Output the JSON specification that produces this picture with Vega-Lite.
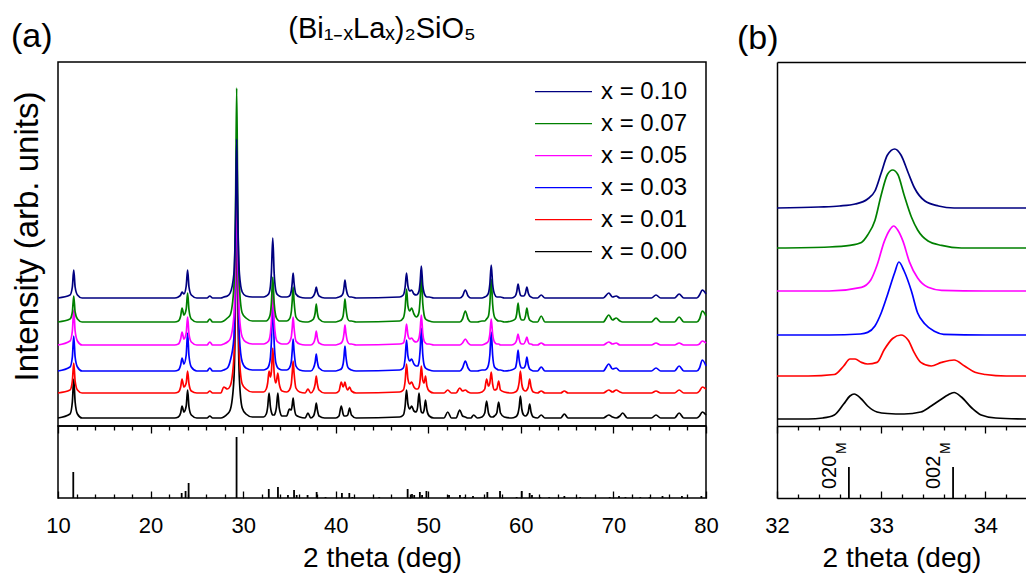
{
  "$schema": "https://vega.github.io/schema/vega-lite/v6.json",
  "background": "white",
  "padding": {"left": 10, "top": 14, "right": 0, "bottom": 0},
  "autosize": {"type": "pad"},
  "bounds": "flush",
  "columns": 2,
  "spacing": {"row": 0, "column": 71},
  "resolve": {"scale": {"color": "independent"}},
  "title": {"text": "(a)", "anchor": "start", "frame": "group", "dx": -47, "offset": -40, "fontSize": 34, "font": "Liberation Sans", "fontWeight": "normal", "color": "black"},
  "datasets": {
    "xrd": [
      {"t":10,"k0":8,"k1":33,"k3":55,"k5":81,"k7":104,"k10":128},
      {"t":11.3,"k0":12,"k1":36,"k3":59,"k5":85,"k7":107,"k10":131},
      {"t":11.55,"k0":24,"k1":45,"k3":69,"k5":95,"k7":114,"k10":139},
      {"t":11.7,"k0":47,"k1":63,"k3":90,"k5":116,"k7":130,"k10":156},
      {"t":11.85,"k0":24,"k1":45,"k3":69,"k5":95,"k7":114,"k10":139},
      {"t":12.1,"k0":12,"k1":36,"k3":59,"k5":85,"k7":107,"k10":131},
      {"t":12.6,"k0":8,"k1":33,"k3":55,"k5":81,"k7":104,"k10":128},
      {"t":22.6,"k0":8,"k1":33,"k3":55,"k5":81,"k7":104,"k10":128},
      {"t":23.0,"k0":9,"k1":34,"k3":56,"k5":82,"k7":105,"k10":129},
      {"t":23.25,"k0":13,"k1":39,"k3":61,"k5":87,"k7":110,"k10":131},
      {"t":23.4,"k0":20,"k1":47,"k3":68,"k5":94,"k7":118,"k10":134},
      {"t":23.6,"k0":14,"k1":39,"k3":62,"k5":87,"k7":111,"k10":132},
      {"t":23.85,"k0":20,"k1":43,"k3":71,"k5":93,"k7":117,"k10":140},
      {"t":24.0,"k0":36,"k1":55,"k3":93,"k5":109,"k7":133,"k10":156},
      {"t":24.15,"k0":19,"k1":42,"k3":70,"k5":92,"k7":116,"k10":139},
      {"t":24.4,"k0":11,"k1":35,"k3":59,"k5":84,"k7":107,"k10":131},
      {"t":25.0,"k0":8,"k1":33,"k3":55,"k5":81,"k7":104,"k10":128},
      {"t":26.1,"k0":8,"k1":33,"k3":55,"k5":81,"k7":104,"k10":128},
      {"t":26.4,"k0":10,"k1":35,"k3":58,"k5":84,"k7":107,"k10":130},
      {"t":26.7,"k0":8,"k1":33,"k3":55,"k5":81,"k7":104,"k10":128},
      {"t":27.6,"k0":8,"k1":33,"k3":55,"k5":81,"k7":104,"k10":128},
      {"t":27.9,"k0":9,"k1":39,"k3":56,"k5":82,"k7":105,"k10":129},
      {"t":28.3,"k0":12,"k1":37,"k3":58,"k5":84,"k7":108,"k10":130},
      {"t":28.6,"k0":16,"k1":40,"k3":65,"k5":87,"k7":111,"k10":133},
      {"t":29.0,"k0":46,"k1":68,"k3":88,"k5":110,"k7":139,"k10":152},
      {"t":29.18,"k0":133,"k1":150,"k3":165,"k5":178,"k7":221,"k10":208},
      {"t":29.3,"k0":258,"k1":268,"k3":275,"k5":276,"k7":338,"k10":287},
      {"t":29.42,"k0":133,"k1":150,"k3":165,"k5":178,"k7":221,"k10":208},
      {"t":29.6,"k0":46,"k1":68,"k3":88,"k5":110,"k7":139,"k10":152},
      {"t":29.9,"k0":18,"k1":42,"k3":64,"k5":89,"k7":113,"k10":134},
      {"t":30.3,"k0":12,"k1":37,"k3":58,"k5":84,"k7":108,"k10":130},
      {"t":31.0,"k0":9,"k1":34,"k3":56,"k5":82,"k7":105,"k10":129},
      {"t":32.2,"k0":9,"k1":34,"k3":56,"k5":82,"k7":105,"k10":129},
      {"t":32.5,"k0":12,"k1":37,"k3":57,"k5":83,"k7":105,"k10":130},
      {"t":32.65,"k0":19,"k1":43,"k3":58,"k5":84,"k7":106,"k10":131},
      {"t":32.8,"k0":33,"k1":55,"k3":61,"k5":86,"k7":108,"k10":133},
      {"t":32.95,"k0":19,"k1":49,"k3":69,"k5":93,"k7":113,"k10":140},
      {"t":33.05,"k0":14,"k1":54,"k3":84,"k5":105,"k7":123,"k10":153},
      {"t":33.2,"k0":11,"k1":78,"k3":125,"k5":139,"k7":149,"k10":188},
      {"t":33.35,"k0":11,"k1":53,"k3":84,"k5":105,"k7":123,"k10":153},
      {"t":33.5,"k0":14,"k1":43,"k3":65,"k5":90,"k7":111,"k10":137},
      {"t":33.6,"k0":19,"k1":45,"k3":61,"k5":86,"k7":108,"k10":133},
      {"t":33.75,"k0":33,"k1":53,"k3":58,"k5":84,"k7":106,"k10":131},
      {"t":33.9,"k0":18,"k1":42,"k3":57,"k5":83,"k7":105,"k10":130},
      {"t":34.2,"k0":10,"k1":35,"k3":56,"k5":82,"k7":105,"k10":129},
      {"t":34.7,"k0":10,"k1":34,"k3":56,"k5":82,"k7":105,"k10":129},
      {"t":35.0,"k0":17,"k1":36,"k3":58,"k5":84,"k7":107,"k10":130},
      {"t":35.2,"k0":16,"k1":42,"k3":64,"k5":89,"k7":114,"k10":135},
      {"t":35.3,"k0":21,"k1":53,"k3":75,"k5":98,"k7":125,"k10":143},
      {"t":35.4,"k0":28,"k1":65,"k3":87,"k5":109,"k7":139,"k10":153},
      {"t":35.5,"k0":20,"k1":53,"k3":75,"k5":98,"k7":125,"k10":143},
      {"t":35.7,"k0":11,"k1":38,"k3":60,"k5":85,"k7":109,"k10":132},
      {"t":36.1,"k0":9,"k1":34,"k3":56,"k5":82,"k7":105,"k10":129},
      {"t":36.7,"k0":8,"k1":33,"k3":55,"k5":81,"k7":104,"k10":128},
      {"t":37.0,"k0":13,"k1":37,"k3":55,"k5":81,"k7":104,"k10":128},
      {"t":37.3,"k0":8,"k1":33,"k3":55,"k5":81,"k7":105,"k10":128},
      {"t":37.6,"k0":10,"k1":36,"k3":58,"k5":83,"k7":107,"k10":130},
      {"t":37.78,"k0":16,"k1":42,"k3":64,"k5":88,"k7":113,"k10":134},
      {"t":37.9,"k0":23,"k1":50,"k3":72,"k5":95,"k7":122,"k10":139},
      {"t":38.02,"k0":16,"k1":42,"k3":64,"k5":88,"k7":113,"k10":134},
      {"t":38.2,"k0":10,"k1":36,"k3":58,"k5":83,"k7":107,"k10":130},
      {"t":38.8,"k0":8,"k1":33,"k3":55,"k5":81,"k7":104,"k10":128},
      {"t":40.0,"k0":8,"k1":33,"k3":55,"k5":81,"k7":104,"k10":128},
      {"t":40.35,"k0":10,"k1":35,"k3":56,"k5":82,"k7":105,"k10":129},
      {"t":40.6,"k0":20,"k1":44,"k3":57,"k5":83,"k7":106,"k10":130},
      {"t":40.8,"k0":12,"k1":39,"k3":62,"k5":87,"k7":110,"k10":133},
      {"t":40.9,"k0":10,"k1":41,"k3":70,"k5":93,"k7":118,"k10":139},
      {"t":41.0,"k0":10,"k1":44,"k3":80,"k5":101,"k7":127,"k10":146},
      {"t":41.1,"k0":10,"k1":40,"k3":70,"k5":93,"k7":118,"k10":139},
      {"t":41.3,"k0":11,"k1":36,"k3":59,"k5":84,"k7":107,"k10":131},
      {"t":41.5,"k0":18,"k1":39,"k3":57,"k5":82,"k7":105,"k10":129},
      {"t":41.7,"k0":11,"k1":35,"k3":56,"k5":82,"k7":105,"k10":129},
      {"t":42.2,"k0":8,"k1":33,"k3":55,"k5":81,"k7":104,"k10":128},
      {"t":46.9,"k0":9,"k1":34,"k3":56,"k5":82,"k7":105,"k10":129},
      {"t":47.3,"k0":11,"k1":36,"k3":58,"k5":83,"k7":108,"k10":131},
      {"t":47.5,"k0":20,"k1":45,"k3":68,"k5":90,"k7":118,"k10":139},
      {"t":47.65,"k0":36,"k1":62,"k3":86,"k5":102,"k7":137,"k10":153},
      {"t":47.8,"k0":22,"k1":47,"k3":70,"k5":91,"k7":120,"k10":140},
      {"t":48.0,"k0":17,"k1":42,"k3":65,"k5":87,"k7":115,"k10":135},
      {"t":48.2,"k0":20,"k1":44,"k3":67,"k5":88,"k7":118,"k10":136},
      {"t":48.45,"k0":15,"k1":39,"k3":62,"k5":85,"k7":112,"k10":132},
      {"t":48.7,"k0":14,"k1":37,"k3":60,"k5":84,"k7":109,"k10":131},
      {"t":48.85,"k0":19,"k1":37,"k3":60,"k5":85,"k7":110,"k10":132},
      {"t":49.0,"k0":33,"k1":39,"k3":64,"k5":88,"k7":114,"k10":135},
      {"t":49.12,"k0":22,"k1":46,"k3":76,"k5":96,"k7":127,"k10":144},
      {"t":49.25,"k0":14,"k1":60,"k3":98,"k5":111,"k7":150,"k10":160},
      {"t":49.4,"k0":13,"k1":46,"k3":72,"k5":93,"k7":123,"k10":141},
      {"t":49.55,"k0":16,"k1":43,"k3":61,"k5":85,"k7":111,"k10":133},
      {"t":49.7,"k0":26,"k1":50,"k3":58,"k5":83,"k7":107,"k10":130},
      {"t":49.85,"k0":16,"k1":40,"k3":57,"k5":82,"k7":106,"k10":129},
      {"t":50.1,"k0":10,"k1":35,"k3":56,"k5":82,"k7":105,"k10":129},
      {"t":50.6,"k0":8,"k1":33,"k3":55,"k5":81,"k7":104,"k10":128},
      {"t":51.7,"k0":8,"k1":33,"k3":55,"k5":81,"k7":104,"k10":128},
      {"t":52.1,"k0":14,"k1":36,"k3":55,"k5":81,"k7":104,"k10":128},
      {"t":52.5,"k0":8,"k1":33,"k3":55,"k5":81,"k7":104,"k10":128},
      {"t":53.0,"k0":8,"k1":33,"k3":55,"k5":81,"k7":104,"k10":128},
      {"t":53.4,"k0":16,"k1":38,"k3":55,"k5":81,"k7":104,"k10":128},
      {"t":53.7,"k0":10,"k1":35,"k3":58,"k5":83,"k7":107,"k10":130},
      {"t":54.0,"k0":9,"k1":36,"k3":65,"k5":87,"k7":115,"k10":136},
      {"t":54.3,"k0":8,"k1":34,"k3":58,"k5":83,"k7":107,"k10":130},
      {"t":54.6,"k0":8,"k1":33,"k3":55,"k5":81,"k7":104,"k10":128},
      {"t":54.9,"k0":11,"k1":33,"k3":55,"k5":81,"k7":104,"k10":128},
      {"t":55.3,"k0":8,"k1":33,"k3":55,"k5":81,"k7":104,"k10":128},
      {"t":55.8,"k0":9,"k1":34,"k3":56,"k5":81,"k7":105,"k10":128},
      {"t":56.1,"k0":13,"k1":37,"k3":56,"k5":82,"k7":105,"k10":129},
      {"t":56.3,"k0":25,"k1":47,"k3":57,"k5":83,"k7":107,"k10":130},
      {"t":56.5,"k0":13,"k1":40,"k3":61,"k5":85,"k7":110,"k10":133},
      {"t":56.65,"k0":10,"k1":43,"k3":71,"k5":92,"k7":122,"k10":142},
      {"t":56.8,"k0":9,"k1":54,"k3":94,"k5":107,"k7":147,"k10":161},
      {"t":56.95,"k0":9,"k1":42,"k3":71,"k5":92,"k7":122,"k10":142},
      {"t":57.15,"k0":10,"k1":36,"k3":59,"k5":84,"k7":109,"k10":132},
      {"t":57.4,"k0":13,"k1":37,"k3":57,"k5":82,"k7":106,"k10":129},
      {"t":57.6,"k0":24,"k1":45,"k3":56,"k5":82,"k7":105,"k10":129},
      {"t":57.8,"k0":13,"k1":36,"k3":56,"k5":81,"k7":105,"k10":129},
      {"t":58.2,"k0":9,"k1":34,"k3":55,"k5":81,"k7":104,"k10":128},
      {"t":59.0,"k0":8,"k1":33,"k3":56,"k5":81,"k7":105,"k10":128},
      {"t":59.4,"k0":9,"k1":34,"k3":58,"k5":83,"k7":107,"k10":130},
      {"t":59.55,"k0":10,"k1":35,"k3":64,"k5":86,"k7":112,"k10":134},
      {"t":59.7,"k0":13,"k1":38,"k3":76,"k5":92,"k7":123,"k10":142},
      {"t":59.82,"k0":19,"k1":44,"k3":66,"k5":87,"k7":114,"k10":136},
      {"t":59.95,"k0":30,"k1":55,"k3":60,"k5":83,"k7":108,"k10":131},
      {"t":60.1,"k0":17,"k1":42,"k3":58,"k5":82,"k7":106,"k10":130},
      {"t":60.3,"k0":11,"k1":36,"k3":58,"k5":82,"k7":106,"k10":130},
      {"t":60.5,"k0":10,"k1":35,"k3":61,"k5":85,"k7":110,"k10":133},
      {"t":60.65,"k0":11,"k1":36,"k3":69,"k5":89,"k7":118,"k10":139},
      {"t":60.8,"k0":14,"k1":39,"k3":61,"k5":84,"k7":110,"k10":133},
      {"t":60.95,"k0":22,"k1":47,"k3":57,"k5":82,"k7":106,"k10":130},
      {"t":61.1,"k0":14,"k1":39,"k3":56,"k5":82,"k7":105,"k10":129},
      {"t":61.35,"k0":9,"k1":34,"k3":55,"k5":81,"k7":104,"k10":128},
      {"t":61.8,"k0":8,"k1":33,"k3":55,"k5":81,"k7":104,"k10":128},
      {"t":62.2,"k0":11,"k1":35,"k3":59,"k5":83,"k7":110,"k10":131},
      {"t":62.6,"k0":8,"k1":33,"k3":55,"k5":81,"k7":104,"k10":128},
      {"t":64.3,"k0":8,"k1":33,"k3":55,"k5":81,"k7":104,"k10":128},
      {"t":64.7,"k0":12,"k1":35,"k3":55,"k5":81,"k7":104,"k10":128},
      {"t":65.1,"k0":8,"k1":33,"k3":55,"k5":81,"k7":104,"k10":128},
      {"t":68.9,"k0":8,"k1":33,"k3":55,"k5":81,"k7":104,"k10":128},
      {"t":69.5,"k0":11,"k1":36,"k3":62,"k5":84,"k7":111,"k10":133},
      {"t":69.9,"k0":9,"k1":34,"k3":57,"k5":82,"k7":106,"k10":129},
      {"t":70.3,"k0":8,"k1":36,"k3":58,"k5":83,"k7":108,"k10":130},
      {"t":70.7,"k0":10,"k1":34,"k3":55,"k5":81,"k7":105,"k10":128},
      {"t":71.0,"k0":13,"k1":33,"k3":55,"k5":81,"k7":104,"k10":128},
      {"t":71.5,"k0":8,"k1":33,"k3":55,"k5":81,"k7":104,"k10":128},
      {"t":74.1,"k0":8,"k1":33,"k3":55,"k5":81,"k7":104,"k10":128},
      {"t":74.6,"k0":11,"k1":35,"k3":58,"k5":83,"k7":108,"k10":131},
      {"t":75.1,"k0":8,"k1":33,"k3":55,"k5":81,"k7":104,"k10":128},
      {"t":76.6,"k0":8,"k1":33,"k3":55,"k5":81,"k7":104,"k10":128},
      {"t":77.1,"k0":13,"k1":36,"k3":60,"k5":83,"k7":109,"k10":132},
      {"t":77.6,"k0":8,"k1":33,"k3":55,"k5":81,"k7":104,"k10":128},
      {"t":79.0,"k0":8,"k1":33,"k3":55,"k5":81,"k7":104,"k10":128},
      {"t":79.3,"k0":10,"k1":35,"k3":58,"k5":82,"k7":107,"k10":131},
      {"t":79.6,"k0":14,"k1":39,"k3":66,"k5":85,"k7":115,"k10":136},
      {"t":80.0,"k0":11,"k1":37,"k3":60,"k5":83,"k7":110,"k10":132}
    ],
    "ref": [
      {"t":11.65,"h":26},{"t":23.36,"h":5},{"t":23.78,"h":7},{"t":24.11,"h":15},{"t":29.29,"h":61},
      {"t":32.77,"h":9},{"t":33.76,"h":11},{"t":34.84,"h":3},{"t":35.5,"h":8},{"t":35.78,"h":3},
      {"t":36.96,"h":3},{"t":37.94,"h":6},{"t":38.9,"h":1},{"t":40.67,"h":5},{"t":41.47,"h":5},
      {"t":41.8,"h":1},{"t":44.7,"h":1},{"t":47.77,"h":9},{"t":48.24,"h":4},{"t":48.48,"h":3},
      {"t":49.09,"h":6},{"t":49.33,"h":3},{"t":49.8,"h":7},{"t":52.24,"h":3},{"t":53.42,"h":3},
      {"t":53.9,"h":1},{"t":54.83,"h":2},{"t":56.38,"h":6},{"t":57.75,"h":7},{"t":59.54,"h":1},
      {"t":60.1,"h":7},{"t":60.95,"h":5},{"t":61.2,"h":3},{"t":62.1,"h":1},{"t":63.06,"h":1},
      {"t":64.7,"h":2},{"t":66.4,"h":1},{"t":69.6,"h":1},{"t":70.6,"h":2},{"t":71.3,"h":1},
      {"t":72.9,"h":1},{"t":73.9,"h":1},{"t":75.3,"h":2},{"t":77.4,"h":2},{"t":79.5,"h":2}
    ],
    "zoom": [
      {"t":32.0,"key":"k0","v":7},{"t":32.3,"key":"k0","v":7},{"t":32.44,"key":"k0","v":8},{"t":32.55,"key":"k0","v":11},
      {"t":32.64,"key":"k0","v":22},{"t":32.7,"key":"k0","v":30},{"t":32.74,"key":"k0","v":32},{"t":32.81,"key":"k0","v":27},
      {"t":32.87,"key":"k0","v":20},{"t":32.96,"key":"k0","v":14},{"t":33.06,"key":"k0","v":12.5},{"t":33.22,"key":"k0","v":12},
      {"t":33.38,"key":"k0","v":14},{"t":33.48,"key":"k0","v":20},{"t":33.58,"key":"k0","v":27},{"t":33.64,"key":"k0","v":31},
      {"t":33.7,"key":"k0","v":33.5},{"t":33.77,"key":"k0","v":29},{"t":33.87,"key":"k0","v":18},{"t":33.96,"key":"k0","v":11},
      {"t":34.1,"key":"k0","v":8},{"t":34.4,"key":"k0","v":7},
      {"t":32.0,"key":"k1","v":50},{"t":32.3,"key":"k1","v":50},{"t":32.55,"key":"k1","v":51.5},{"t":32.64,"key":"k1","v":60},
      {"t":32.7,"key":"k1","v":67},{"t":32.75,"key":"k1","v":67},{"t":32.81,"key":"k1","v":63.6},{"t":32.87,"key":"k1","v":62},
      {"t":32.96,"key":"k1","v":63.6},{"t":33.03,"key":"k1","v":76.5},{"t":33.11,"key":"k1","v":87.5},{"t":33.19,"key":"k1","v":91},
      {"t":33.26,"key":"k1","v":85.7},{"t":33.32,"key":"k1","v":72.8},{"t":33.38,"key":"k1","v":63.6},{"t":33.48,"key":"k1","v":60},
      {"t":33.58,"key":"k1","v":63.6},{"t":33.7,"key":"k1","v":66},{"t":33.8,"key":"k1","v":60},{"t":33.9,"key":"k1","v":53.7},
      {"t":34.0,"key":"k1","v":51.5},{"t":34.2,"key":"k1","v":50},{"t":34.4,"key":"k1","v":50},
      {"t":32.0,"key":"k3","v":91},{"t":32.5,"key":"k3","v":91},{"t":32.8,"key":"k3","v":92},{"t":32.87,"key":"k3","v":93.6},
      {"t":32.94,"key":"k3","v":100},{"t":33.0,"key":"k3","v":113},{"t":33.06,"key":"k3","v":131},{"t":33.13,"key":"k3","v":153.5},
      {"t":33.17,"key":"k3","v":164},{"t":33.22,"key":"k3","v":155},{"t":33.29,"key":"k3","v":135},{"t":33.35,"key":"k3","v":113},
      {"t":33.42,"key":"k3","v":102},{"t":33.51,"key":"k3","v":94.7},{"t":33.6,"key":"k3","v":91.7},{"t":34.0,"key":"k3","v":91},
      {"t":34.4,"key":"k3","v":91},
      {"t":32.0,"key":"k5","v":135},{"t":32.5,"key":"k5","v":135},{"t":32.81,"key":"k5","v":138.7},{"t":32.9,"key":"k5","v":146},
      {"t":32.96,"key":"k5","v":160.7},{"t":33.03,"key":"k5","v":184.6},{"t":33.08,"key":"k5","v":195.7},{"t":33.12,"key":"k5","v":200},
      {"t":33.16,"key":"k5","v":195.7},{"t":33.21,"key":"k5","v":184.6},{"t":33.27,"key":"k5","v":164.4},{"t":33.35,"key":"k5","v":148},
      {"t":33.45,"key":"k5","v":138.7},{"t":33.58,"key":"k5","v":135.7},{"t":34.0,"key":"k5","v":135},{"t":34.4,"key":"k5","v":135},
      {"t":32.0,"key":"k7","v":178},{"t":32.5,"key":"k7","v":179},{"t":32.7,"key":"k7","v":180.6},{"t":32.81,"key":"k7","v":183.5},
      {"t":32.87,"key":"k7","v":191},{"t":32.94,"key":"k7","v":205.6},{"t":33.0,"key":"k7","v":231},{"t":33.06,"key":"k7","v":251.5},
      {"t":33.11,"key":"k7","v":256},{"t":33.16,"key":"k7","v":251.5},{"t":33.22,"key":"k7","v":231},{"t":33.29,"key":"k7","v":209},
      {"t":33.35,"key":"k7","v":196},{"t":33.45,"key":"k7","v":185},{"t":33.58,"key":"k7","v":180.6},{"t":33.77,"key":"k7","v":178},
      {"t":34.4,"key":"k7","v":178},
      {"t":32.0,"key":"k10","v":218},{"t":32.4,"key":"k10","v":219},{"t":32.6,"key":"k10","v":220},{"t":32.75,"key":"k10","v":222},
      {"t":32.87,"key":"k10","v":227},{"t":32.94,"key":"k10","v":235},{"t":33.0,"key":"k10","v":253},{"t":33.06,"key":"k10","v":271},
      {"t":33.13,"key":"k10","v":277},{"t":33.19,"key":"k10","v":271},{"t":33.26,"key":"k10","v":253},{"t":33.32,"key":"k10","v":238},
      {"t":33.42,"key":"k10","v":225},{"t":33.55,"key":"k10","v":220},{"t":33.7,"key":"k10","v":218},{"t":34.4,"key":"k10","v":218}
    ],
    "refb": [
      {"t":32.69,"h":31,"lab":"020","sub":"M"},
      {"t":33.69,"h":31,"lab":"002","sub":"M"}
    ]
  },
  "concat": [
    {
      "width": 648, "height": 364,
      "data": {"name": "xrd"},
      "transform": [{"fold": ["k0","k1","k3","k5","k7","k10"], "as": ["key","v"]}],
      "title": {"text": "(Bi₁₋ₓLaₓ)₂SiO₅", "frame": "group", "anchor": "middle", "fontSize": 29, "offset": 18},
      "mark": {"type": "line", "strokeWidth": 1.7, "interpolate": "monotone"},
      "encoding": {
        "x": {"field": "t", "type": "quantitative", "scale": {"domain": [10, 80], "nice": false, "zero": false},
          "axis": {"values": [10,12,14,16,18,20,22,24,26,28,30,32,34,36,38,40,42,44,46,48,50,52,54,56,58,60,62,64,66,68,70,72,74,76,78,80],
            "labels": false, "domain": false, "title": null,
            "tickSize": {"condition": {"test": "datum.value % 10 === 0", "value": 7}, "value": 4}}},
        "y": {"field": "v", "type": "quantitative", "scale": {"domain": [0, 364], "nice": false, "zero": false},
          "axis": {"title": "Intensity (arb. units)", "labels": false, "ticks": false, "domain": false, "titlePadding": 14, "titleY": 174, "titleFontSize": 33}},
        "color": {"field": "key", "type": "nominal",
          "scale": {"domain": ["k10","k7","k5","k3","k1","k0"], "range": ["#000080","#008000","#ff00ff","#0000ff","#ff0000","#000000"]},
          "legend": {"orient": "none", "legendX": 476, "legendY": 14, "title": null, "symbolType": "stroke", "symbolSize": 3249,
            "symbolStrokeWidth": 1.3, "clipHeight": 31.3, "rowPadding": 0, "padding": 0, "labelFontSize": 24, "labelOffset": 8,
            "labelFont": "Liberation Sans", "labelColor": "black",
            "labelExpr": "'x = 0.' + (datum.label == 'k10' ? '10' : '0' + slice(datum.label, 1))"}}
      }
    },
    {
      "width": 249, "height": 364,
      "view": {"stroke": null},
      "title": {"text": "(b)", "anchor": "start", "frame": "group", "dx": -40, "offset": 6, "fontSize": 34},
      "data": {"name": "zoom"},
      "layer": [
        {
          "mark": {"type": "line", "strokeWidth": 1.7, "interpolate": "monotone"},
          "encoding": {
            "x": {"field": "t", "type": "quantitative", "scale": {"domain": [32, 34.39], "nice": false, "zero": false},
              "axis": {"values": [32,32.2,32.4,32.6,32.8,33,33.2,33.4,33.6,33.8,34,34.2], "labels": false, "title": null, "domain": true,
                "tickSize": {"condition": {"test": "datum.value % 1 === 0", "value": 7}, "value": 4}}},
            "y": {"field": "v", "type": "quantitative", "scale": {"domain": [0, 364], "nice": false, "zero": false},
              "axis": {"labels": false, "ticks": false, "title": null, "domain": true}},
            "color": {"field": "key", "type": "nominal",
              "scale": {"domain": ["k10","k7","k5","k3","k1","k0"], "range": ["#000080","#008000","#ff00ff","#0000ff","#ff0000","#000000"]},
              "legend": null}
          }
        },
        {
          "mark": {"type": "point", "opacity": 0},
          "encoding": {
            "x": {"field": "t", "type": "quantitative", "scale": {"domain": [32, 34.39], "nice": false, "zero": false},
              "axis": {"orient": "top", "labels": false, "ticks": false, "title": null, "domain": true}},
            "y": {"field": "v", "type": "quantitative", "scale": {"domain": [0, 364], "nice": false, "zero": false}}
          }
        }
      ],
      "resolve": {"axis": {"x": "independent"}}
    },
    {
      "width": 648, "height": 72,
      "data": {"name": "ref"},
      "mark": {"type": "rule", "strokeWidth": 1.8, "color": "black"},
      "encoding": {
        "x": {"field": "t", "type": "quantitative", "scale": {"domain": [10, 80], "nice": false, "zero": false},
          "axis": {"values": [10,12,14,16,18,20,22,24,26,28,30,32,34,36,38,40,42,44,46,48,50,52,54,56,58,60,62,64,66,68,70,72,74,76,78,80],
            "labelExpr": "datum.value % 10 === 0 ? datum.label : ''", "labelOverlap": false, "labelFlush": false,
            "labelPadding": 24, "domain": false, "title": "2 theta (deg)", "titlePadding": 5,
            "tickSize": {"condition": {"test": "datum.value % 10 === 0", "value": -7}, "value": -4}}},
        "y": {"field": "h", "type": "quantitative", "scale": {"domain": [0, 72], "nice": false, "zero": false}, "axis": null},
        "y2": {"datum": 0}
      }
    },
    {
      "width": 249, "height": 72,
      "view": {"stroke": null},
      "data": {"name": "refb"},
      "encoding": {
        "x": {"field": "t", "type": "quantitative", "scale": {"domain": [32, 34.39], "nice": false, "zero": false},
          "axis": {"values": [32,32.2,32.4,32.6,32.8,33,33.2,33.4,33.6,33.8,34,34.2],
            "labelExpr": "datum.value % 1 === 0 ? format(datum.value, 'd') : ''", "labelOverlap": false, "labelFlush": false,
            "labelPadding": 24, "domain": true, "title": "2 theta (deg)", "titlePadding": 5,
            "tickSize": {"condition": {"test": "datum.value % 1 === 0", "value": -7}, "value": -4}}}
      },
      "layer": [
        {
          "mark": {"type": "rule", "strokeWidth": 1.8, "color": "black"},
          "encoding": {
            "y": {"field": "h", "type": "quantitative", "scale": {"domain": [0, 72], "nice": false, "zero": false},
              "axis": {"labels": false, "ticks": false, "title": null, "domain": true}},
            "y2": {"datum": 0}
          }
        },
        {
          "mark": {"type": "text", "angle": 270, "align": "left", "baseline": "alphabetic", "dx": 9, "dy": -13, "fontSize": 20, "font": "Liberation Sans", "color": "black"},
          "encoding": {"y": {"datum": 0}, "text": {"field": "lab"}}
        },
        {
          "mark": {"type": "text", "angle": 270, "align": "left", "baseline": "alphabetic", "dx": 44, "dy": -3, "fontSize": 14, "font": "Liberation Sans", "color": "black"},
          "encoding": {"y": {"datum": 0}, "text": {"field": "sub"}}
        }
      ]
    }
  ],
  "config": {
    "font": "Liberation Sans",
    "view": {"stroke": "black", "strokeWidth": 1.5},
    "axis": {"labelFont": "Liberation Sans", "titleFont": "Liberation Sans", "labelColor": "black", "titleColor": "black",
      "domainColor": "black", "tickColor": "black", "titleFontWeight": "normal", "grid": false, "labelOverlap": false,
      "labelFontSize": 22, "titleFontSize": 28, "domainWidth": 1.5, "tickWidth": 1.3},
    "title": {"font": "Liberation Sans", "fontWeight": "normal", "color": "black"},
    "legend": {"labelFont": "Liberation Sans"}
  }
}
